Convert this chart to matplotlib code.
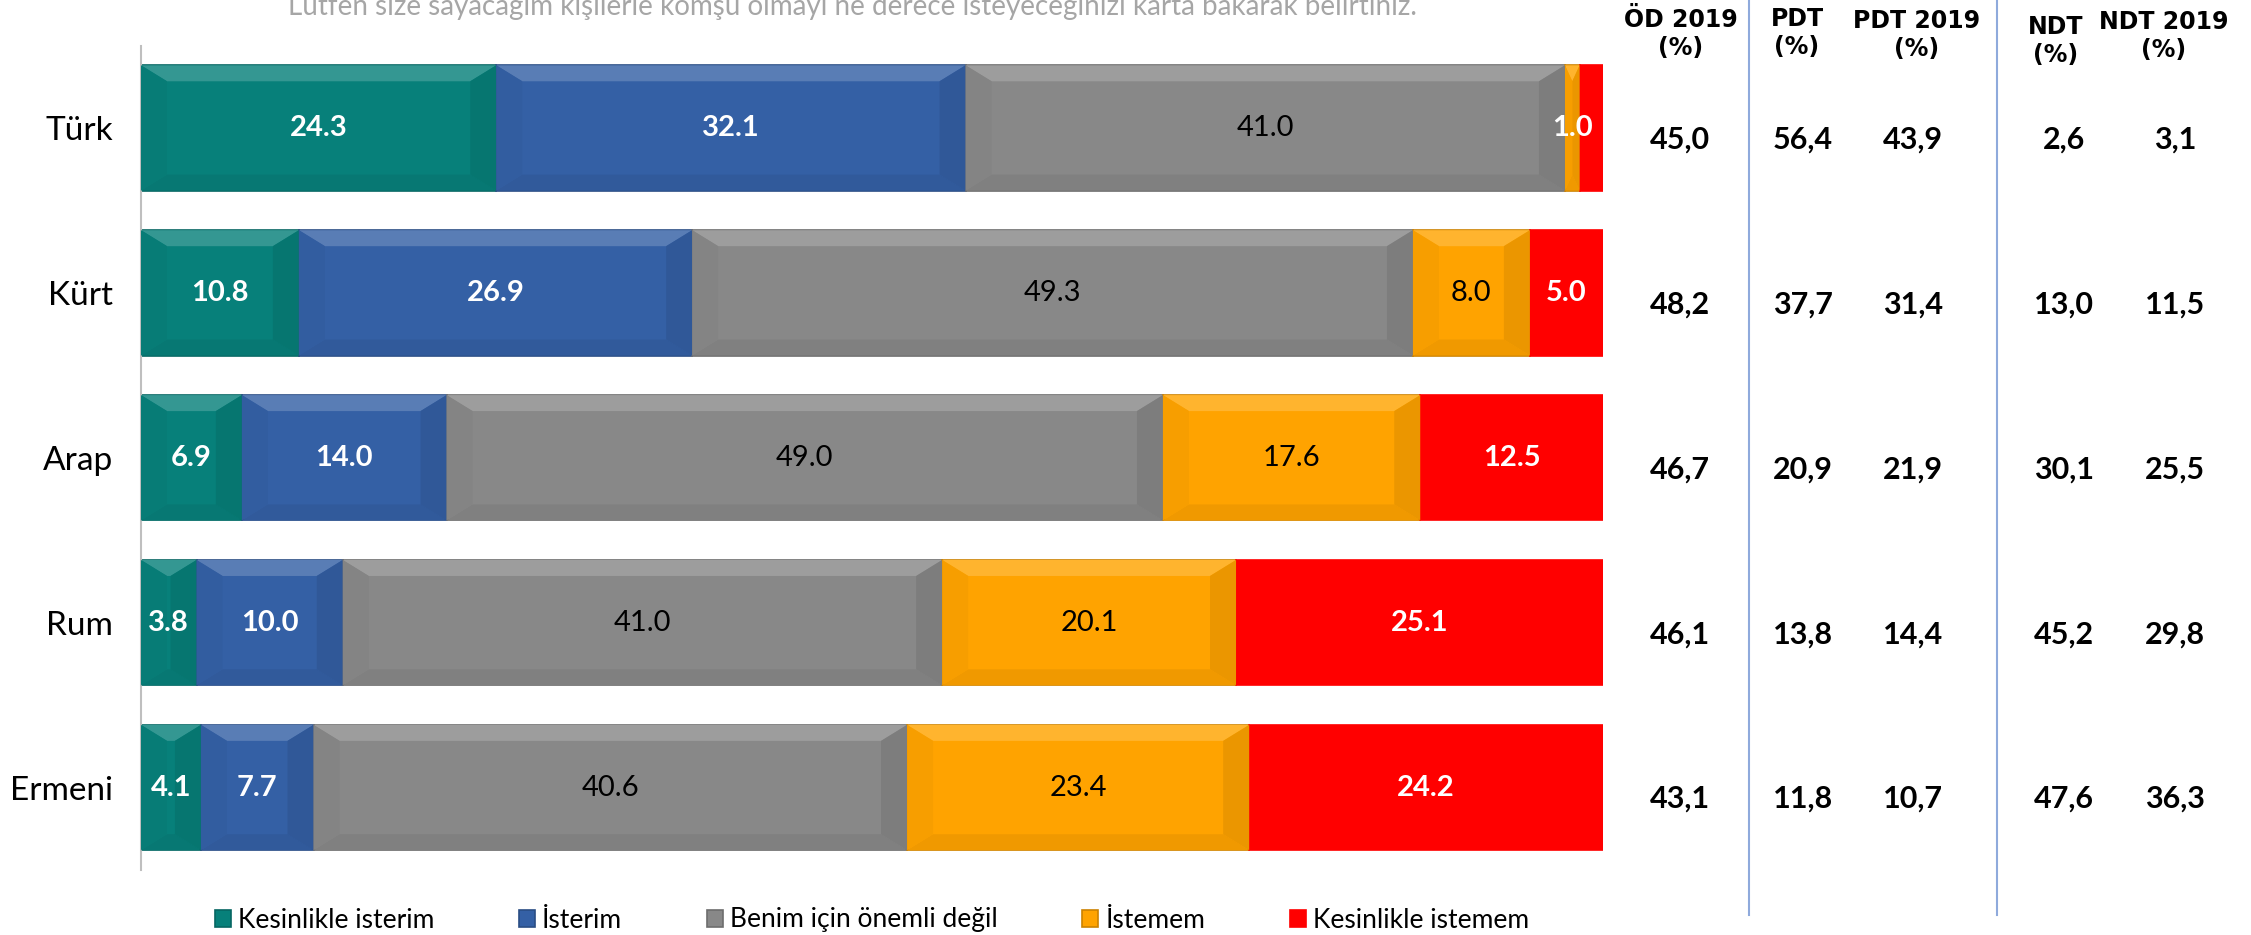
import matplotlib
matplotlib.use("Agg")
import matplotlib.pyplot as plt
import matplotlib.transforms as mtransforms
from matplotlib.patches import Polygon
from matplotlib.lines import Line2D
from matplotlib import colors as mcolors

# categories and stacked shares (%)
groups = ["Türk", "Kürt", "Arap", "Rum", "Ermeni"]
series_names = ["Kesinlikle isterim", "İsterim", "Benim için önemli değil",
                "İstemem", "Kesinlikle istemem"]
kesinlikle_isterim = [24.3, 10.8, 6.9, 3.8, 4.1]
isterim = [32.1, 26.9, 14.0, 10.0, 7.7]
onemli_degil = [41.0, 49.3, 49.0, 41.0, 40.6]
istemem = [1.0, 8.0, 17.6, 20.1, 23.4]
kesinlikle_istemem = [1.6, 5.0, 12.5, 25.1, 24.2]

# right-hand comparison table
table_headers = ["ÖD 2019\n(%)", "PDT\n(%)", "PDT 2019\n(%)", "NDT\n(%)", "NDT 2019\n(%)"]
od_2019 = [45.0, 48.2, 46.7, 46.1, 43.1]
pdt = [56.4, 37.7, 20.9, 13.8, 11.8]
pdt_2019 = [43.9, 31.4, 21.9, 14.4, 10.7]
ndt = [2.6, 13.0, 30.1, 45.2, 47.6]
ndt_2019 = [3.1, 11.5, 25.5, 29.8, 36.3]

title = ("Lütfen size sayacağım kişilerle komşu olmayı ne derece "
         "isteyeceğinizi karta bakarak belirtiniz.")

colors = ["#07807A", "#3460A5", "#888888", "#FFA300", "#FF0000"]
W, H = 2251, 935
fig = plt.figure(figsize=(W / 100, H / 100), dpi=100)
ax = fig.add_axes([141 / W, 1 - 870 / H, 1462 / W, 824.5 / H])

series = [kesinlikle_isterim, isterim, onemli_degil, istemem, kesinlikle_istemem]
ypos = list(range(len(groups)))
bar_h = 0.76
px_x = 1462 / 100.0
px_y = 824.5 / 5.0
bevel_x, bevel_y = 26, 16


def mix(c, other, t):
    r = mcolors.to_rgb(c)
    o = mcolors.to_rgb(other)
    return tuple(a * (1 - t) + b * t for a, b in zip(r, o))


left = [0.0] * len(groups)
handles = []
for j, (vals, col) in enumerate(zip(series, colors)):
    edge = mix(col, "black", 0.2) if j < 4 else col
    bars = ax.barh(ypos, vals, left=left, height=bar_h, color=col,
                   edgecolor=edge, linewidth=1.2, zorder=2,
                   label=series_names[j])
    handles.append(bars)
    for i, (v, l0) in enumerate(zip(vals, left)):
        x0, x1 = l0, l0 + v
        y0, y1 = i - bar_h / 2, i + bar_h / 2
        if j < 4:
            # soft bevel: thin light top, slightly darker sides/bottom
            ex = min(bevel_x / px_x, v / 2)
            ey = bevel_y / px_y
            facets = [
                ([(x0, y0), (x1, y0), (x1 - ex, y0 + ey), (x0 + ex, y0 + ey)], mix(col, "white", 0.18)),
                ([(x0, y1), (x1, y1), (x1 - ex, y1 - ey), (x0 + ex, y1 - ey)], mix(col, "black", 0.06)),
                ([(x0, y0), (x0 + ex, y0 + ey), (x0 + ex, y1 - ey), (x0, y1)], mix(col, "black", 0.03)),
                ([(x1, y0), (x1 - ex, y0 + ey), (x1 - ex, y1 - ey), (x1, y1)], mix(col, "black", 0.08)),
            ]
            for pts, fc in facets:
                ax.add_patch(Polygon(pts, closed=True, facecolor=fc,
                                     edgecolor="none", zorder=3))
        # value labels
        if j == 4 and v < 2:
            continue
        white = j in (0, 1, 4) or (j == 3 and v < 2)
        ax.text((x0 + x1) / 2, i, f"{v:.1f}", ha="center", va="center",
                color="white" if white else "black",
                fontweight="bold" if white else "normal",
                fontsize=21, family="Lato", zorder=5)
    left = [a + b for a, b in zip(left, vals)]

ax.set_xlim(0, 100)
ax.set_ylim(4.5, -0.5)
ax.set_yticks(ypos)
ax.set_yticklabels(groups, fontsize=24, family="Lato")
ax.tick_params(axis="y", length=0, pad=20)
ax.set_xticks([])
for s in ["top", "right", "bottom"]:
    ax.spines[s].set_visible(False)
ax.spines["left"].set_color("#BFBFBF")
ax.spines["left"].set_linewidth(1.5)

# title (partly cut off at the top as in the source slide)
fig.text(852 / W, 1 - 15 / H, title, ha="center", va="baseline",
         fontsize=20, family="Lato", color="#A6A6A6")

# comparison table on the right
col_x = [1680, 1803, 1913, 2064, 2175]
head_x = [1681, 1797, 1917, 2056, 2164]
head_y = [34, 33, 35, 41, 36]
blend = mtransforms.blended_transform_factory(fig.transFigure, ax.transData)
for k, (hdr, vals) in enumerate(zip(table_headers, [od_2019, pdt, pdt_2019, ndt, ndt_2019])):
    fig.text(head_x[k] / W, 1 - head_y[k] / H, hdr, ha="center", va="center",
             fontsize=17, fontweight="bold", family="DejaVu Sans",
             linespacing=1.2)
    for i, v in enumerate(vals):
        ax.text(col_x[k] / W, i + 0.07, f"{v:.1f}".replace(".", ","),
                transform=blend, ha="center", va="center", fontsize=22,
                fontweight="bold", family="Lato", clip_on=False)

for xl in [1749, 1997]:
    fig.add_artist(Line2D([xl / W, xl / W], [1 - 915 / H, 1],
                          transform=fig.transFigure, color="#8FAADC", lw=1.5))

fig.legend(handles=handles, labels=series_names, loc="center",
           bbox_to_anchor=(872 / W, 1 - 920 / H), ncol=5, frameon=False,
           prop={"family": "Lato", "size": 19}, handlelength=0.6,
           handleheight=0.6, handletextpad=0.28, columnspacing=3.2,
           borderpad=0, borderaxespad=0)

fig.savefig("out.png", dpi=100)
